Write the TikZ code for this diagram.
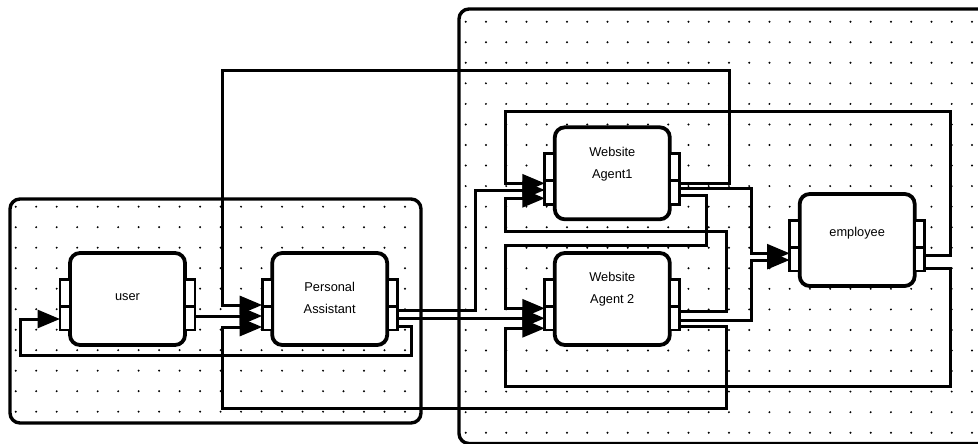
\documentclass[tikz,border=0pt]{standalone}
\usepackage{fontspec}
\setmainfont{Liberation Sans}
\usetikzlibrary{arrows.meta}
\begin{document}
\begin{tikzpicture}[x=1pt,y=-1pt,
  box/.style={draw, line width=3.8pt, rounded corners=10pt, fill=white, minimum width=115pt, minimum height=92pt, inner sep=0pt, outer sep=0pt},
  cont/.style={draw, line width=3.4pt, rounded corners=10pt, inner sep=0pt, outer sep=0pt},
  portu/.style={draw, line width=2.8pt, fill=white, minimum width=10pt, minimum height=27pt, inner sep=0pt, outer sep=0pt},
  portd/.style={portu, minimum height=23.5pt},
  lbl/.style={font=\fontsize{12.8}{22}\selectfont, align=center, inner sep=0pt},
  conn/.style={line width=3pt, -{Triangle[length=22.5pt,width=18pt]}},
  dot/.style={fill=black}
]
\useasboundingbox (0,0) rectangle (978,444);
\clip (0,0) rectangle (978,444);

% dot grids
\foreach \i in {0,...,19}{\foreach \j in {0,...,10}{\fill[dot] (15.7+\i*20.49, 206.7+\j*20.5) circle (1.1pt);}}
\foreach \i in {0,...,25}{\foreach \j in {0,...,20}{\fill[dot] (465.7+\i*20.25, 21.7+\j*20.55) circle (1.1pt);}}

% containers
\node[cont, minimum width=411pt, minimum height=224pt] (lc) at (215.5,311) {};
\node[cont, minimum width=540pt, minimum height=434.5pt] (rc) at (729,226.25) {};

% boxes
\node[box] (user) at (127.5,299) {};
\node[box] (PA) at (329.7,299) {};
\node[box] (WA1) at (612.3,173.3) {};
\node[box] (WA2) at (612.3,299) {};
\node[box] (emp) at (857.2,240) {};

% ports
\foreach \b in {user,PA,WA1,WA2,emp}{
  \node[portu, anchor=south east] (\b lU) at ([yshift=-7.5pt]\b.west) {};
  \node[portd, anchor=north east] (\b lD) at ([yshift=-7.5pt]\b.west) {};
  \node[portu, anchor=south west] (\b rU) at ([yshift=-7.5pt]\b.east) {};
  \node[portd, anchor=north west] (\b rD) at ([yshift=-7.5pt]\b.east) {};
}

% labels
\node[lbl] (userT) at ([yshift=2.3pt]user.center) {user};
\node[lbl] (PAT) at ([yshift=0.7pt]PA.center) {Personal\\Assistant};
\node[lbl] (WA1T) at ([yshift=9pt]WA1.center) {Website\\Agent1};
\node[lbl] (WA2T) at ([yshift=10pt]WA2.center) {Website\\Agent 2};
\node[lbl] (empT) at ([yshift=6.7pt]emp.center) {employee};

% connectors
% PA -> user
\draw[conn] ([yshift=-7.75pt]PArD.east) -- ++(14.5,0) -- ++(0,29) -- ++(-391,0) |- ([yshift=-0.75pt]userlD.west);
% user -> PA
\draw[conn] ([yshift=2.25pt]userrD.east) -- ([yshift=2.25pt]PAlD.west);
% WA1 -> PA
\draw[conn] ([yshift=9.25pt]WA1rD.east) -- ++(49.5,0) -- ++(0,-112.3) -- ++(-507,0) |- ([yshift=13.25pt]PAlD.west);
% WA2 -> PA
\draw[conn] ([yshift=-8.45pt]WA2rD.east) -- ++(46.9,0) -- ++(0,81.6) -- ++(-504.4,0) |- ([yshift=-8.75pt]PAlD.west);
% PA -> WA1
\draw[conn] ([yshift=8.25pt]PArD.east) -- ++(77.8,0) |- ([yshift=2.55pt]WA1lD.west);
% PA -> WA2
\draw[conn] (PArD.east) -- (WA2lD.west);
% WA1 -> WA2
\draw[conn] ([yshift=-2.45pt]WA1rD.east) -- ++(26.9,0) -- ++(0,50) -- ++(-201.7,0) |- ([yshift=9.95pt]WA2lD.west);
% WA2 -> WA1
\draw[conn] ([yshift=6.55pt]WA2rD.east) -- ++(46.9,0) -- ++(0,-80.7) -- ++(-221.7,0) |- ([yshift=-5.75pt]WA1lD.west);
% emp -> WA1
\draw[conn] ([yshift=4.25pt]emprD.east) -- ++(25.3,0) -- ++(0,-143.3) -- ++(-445,0) |- ([yshift=9.25pt]WA1lD.west);
% emp -> WA2
\draw[conn] ([yshift=-9.05pt]emprD.east) -- ++(25.3,0) -- ++(0,118.4) -- ++(-445,0) |- ([yshift=-10.05pt]WA2lD.west);
% WA1 -> emp
\draw[conn] ([yshift=4.25pt]WA1rD.east) -- ++(71.9,0) |- ([yshift=5.95pt]emplD.west);
% WA2 -> emp
\draw[conn] ([yshift=-1.75pt]WA2rD.east) -- ++(71.9,0) |- ([yshift=-0.75pt]emplD.west);
\end{tikzpicture}
\end{document}
